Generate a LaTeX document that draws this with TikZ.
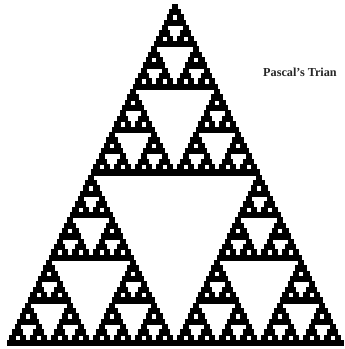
\documentclass[tikz,border=0pt]{standalone}
\usepackage{fontspec}
\setmainfont{Liberation Serif}
\newcommand\cw{5.25}
\newcommand\chh{5.34}
\newcommand\sierp[3]{%
  \ifnum#1=1\relax
    \fill[cellfill] ({175+(#3-#2/2)*\cw-\cw/2},{345-#2*\chh}) rectangle ++(\cw,-\chh);
  \else
    \begingroup
      \edef\hf{\the\numexpr#1/2\relax}%
      \edef\x{\noexpand\sierp{\hf}{\the\numexpr#2\relax}{\the\numexpr#3\relax}%
        \noexpand\sierp{\hf}{\the\numexpr#2+\hf\relax}{\the\numexpr#3\relax}%
        \noexpand\sierp{\hf}{\the\numexpr#2+\hf\relax}{\the\numexpr#3+\hf\relax}}%
      \x
    \endgroup
  \fi}
\tikzset{
  cellfill/.style={fill=black, draw=black, line width=0.6pt},
  caption/.style={font=\fontsize{12.2}{13}\selectfont\bfseries, inner sep=0pt, anchor=west, text=black!85}
}
\begin{document}
\begin{tikzpicture}[x=1pt,y=1pt]
  \useasboundingbox[fill=white] (0,0) rectangle (345,349);
  \sierp{64}{0}{0}
  \node[caption] (title) at (263,277) {Pascal's Trian};
\end{tikzpicture}
\end{document}
